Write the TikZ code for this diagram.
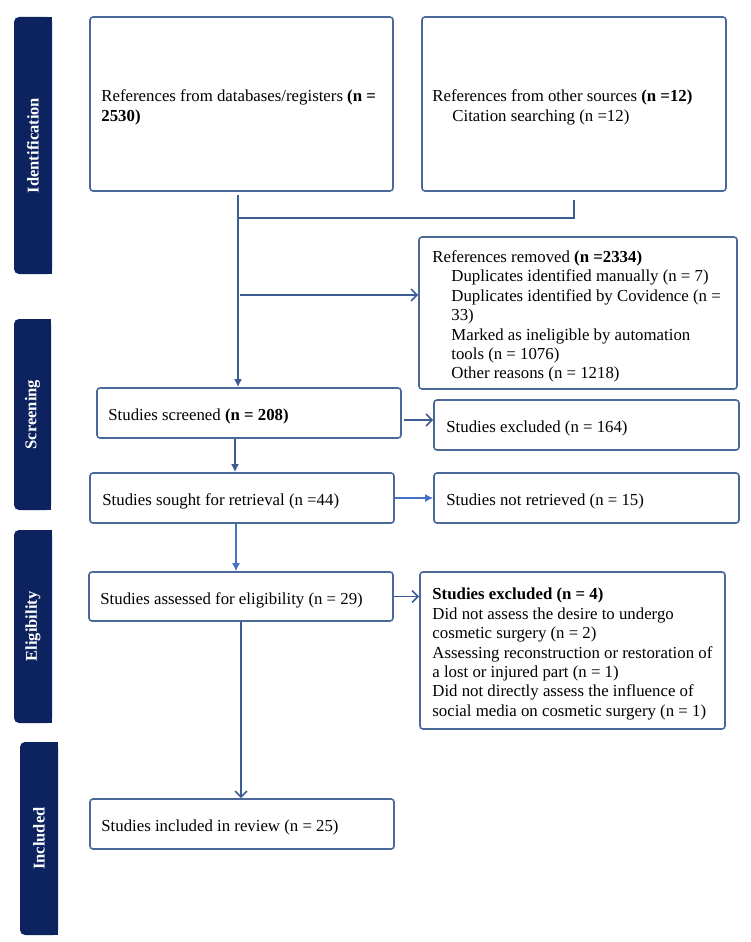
\documentclass[tikz,border=0pt]{standalone}
\usepackage{fontspec}
\setmainfont{Liberation Serif}
\usetikzlibrary{arrows.meta}
\definecolor{navy}{RGB}{12,35,95}
\definecolor{boxc}{RGB}{74,104,152}
\definecolor{lnd}{RGB}{62,92,148}
\definecolor{lnl}{RGB}{68,114,196}
\tikzset{
  box/.style={draw=boxc, line width=1.6pt, rounded corners=3pt, fill=white, inner sep=0pt},
  txt/.style={inner sep=0pt, align=left, anchor=west, yshift=-3.5pt, font=\fontsize{16.8}{19.4}\selectfont},
  side/.style={text=white, rotate=90, inner sep=0pt, font=\fontsize{16.5}{19}\selectfont\bfseries},
  ln/.style={draw=lnd, line width=1.6pt},
  arrF/.style={ln, -{Latex[length=8pt,width=8pt]}},
  arrL/.style={draw=lnl, line width=1.4pt, -{Latex[length=8pt,width=8pt]}},
  arrO/.style={ln, -{Straight Barb[length=6pt,width=12pt]}}
}
\begin{document}
\begin{tikzpicture}[x=1pt,y=-1pt]
\useasboundingbox (0,0) rectangle (750,942);
% side bars
\fill[navy, rounded corners=5pt] (14,17) rectangle (52,274);
\fill[navy] (33,17) rectangle (52,274);
\node[side] (lid) at (33,145.5) {Identification};
\fill[navy, rounded corners=5pt] (14,319) rectangle (51,510);
\fill[navy] (33,319) rectangle (51,510);
\node[side] (lsc) at (32.5,414.5) {Screening};
\fill[navy, rounded corners=5pt] (14,530) rectangle (52,723);
\fill[navy] (33,530) rectangle (52,723);
\node[side] (lel) at (33,626.5) {Eligibility};
\fill[navy, rounded corners=5pt] (20,742) rectangle (58,935);
\fill[navy] (39,742) rectangle (58,935);
\node[side] (lin) at (39,838.5) {Included};
% boxes
\node[box, minimum width=303pt, minimum height=174pt] (db) at (241.5,104) {};
\node[txt] (dbt) at ([xshift=12pt]db.west) {References from databases/registers \textbf{(n =}\\\textbf{2530)}};
\node[box, minimum width=304pt, minimum height=174pt] (oth) at (574,104) {};
\node[txt] (otht) at ([xshift=11pt]oth.west) {References from other sources \textbf{(n =12)}\\\hspace*{20pt}Citation searching (n =12)};
\node[box, minimum width=318pt, minimum height=152pt] (rem) at (578,313) {};
\node[txt] (remt) at ([xshift=14pt]rem.west) {References removed \textbf{(n =2334)}\\
\hspace*{19pt}Duplicates identified manually (n = 7)\\
\hspace*{19pt}Duplicates identified by Covidence (n =\\
\hspace*{19pt}33)\\
\hspace*{19pt}Marked as ineligible by automation\\
\hspace*{19pt}tools (n = 1076)\\
\hspace*{19pt}Other reasons (n = 1218)};
\node[box, minimum width=304pt, minimum height=50pt] (scr) at (249,413) {};
\node[txt] (scrt) at ([xshift=12pt]scr.west) {Studies screened \textbf{(n = 208)}};
\node[box, minimum width=305pt, minimum height=50pt] (ex1) at (586.5,425) {};
\node[txt] (ex1t) at ([xshift=13pt]ex1.west) {Studies excluded (n = 164)};
\node[box, minimum width=304pt, minimum height=50pt] (sou) at (242,498) {};
\node[txt] (sout) at ([xshift=13pt]sou.west) {Studies sought for retrieval (n =44)};
\node[box, minimum width=305pt, minimum height=50pt] (nr) at (586.5,498) {};
\node[txt] (nrt) at ([xshift=13pt]nr.west) {Studies not retrieved (n = 15)};
\node[box, minimum width=304pt, minimum height=49pt] (ass) at (241,596.5) {};
\node[txt] (asst) at ([xshift=12pt]ass.west) {Studies assessed for eligibility (n = 29)};
\node[box, minimum width=305pt, minimum height=157pt] (ex4) at (572.5,650.5) {};
\node[txt] (ex4t) at ([xshift=13pt]ex4.west) {\textbf{Studies excluded (n = 4)}\\
Did not assess the desire to undergo\\
cosmetic surgery (n = 2)\\
Assessing reconstruction or restoration of\\
a lost or injured part (n = 1)\\
Did not directly assess the influence of\\
social media on cosmetic surgery (n = 1)};
\node[box, minimum width=304pt, minimum height=50pt] (inc) at (242,824) {};
\node[txt] (inct) at ([xshift=12pt]inc.west) {Studies included in review (n = 25)};
% connectors
\coordinate (a1) at (238,195);
\draw[arrF] (a1) -- (a1 |- scr.north);
\coordinate (a2) at (238,218);
\draw[ln] ([yshift=-8pt]oth.south) |- (a2);
\coordinate (a3) at (240,295);
\draw[arrO] (a3) -- (a3 -| rem.west);
\coordinate (b1) at ([yshift=-7pt]scr.east);
\draw[arrO] ([xshift=2pt]b1) -- (b1 -| ex1.west);
\draw[arrF] (scr.south -| 235,0) -- (sou.north -| 235,0);
\draw[arrL] (sou.east) -- (nr.west);
\draw[arrL] (sou.south -| 236,0) -- (ass.north -| 236,0);
\draw[arrO] (ass.east) -- (ass.east -| ex4.west);
\draw[arrO] (ass.south -| 241,0) -- (inc.north -| 241,0);
\end{tikzpicture}
\end{document}
